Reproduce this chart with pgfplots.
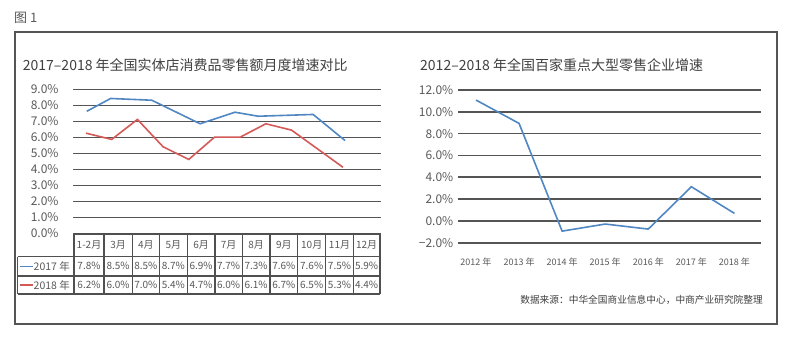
\documentclass[border=0pt]{standalone}
\usepackage{fontspec}
\setmainfont{Noto Sans CJK SC}
\usepackage{pgfplots}
\pgfplotsset{compat=1.18}
\definecolor{gridc}{HTML}{555555}
\definecolor{txt}{HTML}{595959}
\definecolor{ttl}{HTML}{404040}
\definecolor{blueL}{HTML}{5087C3}
\definecolor{redL}{HTML}{D45A58}
\definecolor{framec}{HTML}{555555}
\definecolor{tabc}{HTML}{505050}
\begin{document}
\begin{tikzpicture}
\useasboundingbox (0pt,0pt) rectangle (789pt,338pt);
\fill[white] (0pt,0pt) rectangle (789pt,338pt);
\draw[framec, line width=2pt] (15pt,14pt) rectangle (777pt,306pt);
\node[anchor=west, text=txt, font=\fontsize{13}{14}\selectfont, inner sep=0pt] at (14pt,320pt) {图 1};
\node[anchor=west, text=ttl, font=\fontsize{14}{16}\selectfont, inner sep=0pt] at (22.7pt,273pt) {2017–2018 年全国实体店消费品零售额月度增速对比};
\node[anchor=west, text=ttl, font=\fontsize{14}{16}\selectfont, inner sep=0pt] at (420pt,273pt) {2012–2018 年全国百家重点大型零售企业增速};
\node[anchor=east, text=ttl, font=\fontsize{9.7}{11}\selectfont, inner sep=0pt] at (763pt,38pt) {数据来源：中华全国商业信息中心，中商产业研究院整理};

\begin{axis}[at={(73pt,104.5pt)}, anchor=south west, scale only axis,
  width=308pt, height=144pt, xmin=-0.506, xmax=11.48, ymin=0, ymax=9,
  axis line style={draw=none}, xtick=\empty, ytick={0,1,...,9},
  ymajorgrids, grid style={gridc, line width=1.6pt}, major tick length=0pt,
  /pgf/number format/assume math mode=true,
  yticklabel={\pgfmathprintnumber[fixed,fixed zerofill,precision=1]{\tick}\%},
  yticklabel style={font=\fontsize{12}{13}\selectfont, text=txt, xshift=-11pt},
  clip=false]
\addplot[blueL, line width=1.6pt] coordinates {(0.03,7.64)(0.96,8.44)(2.56,8.33)(4.44,6.86)(5.80,7.58)(6.70,7.33)(8.84,7.44)(10.08,5.81)};
\addplot[redL, line width=1.6pt] coordinates {(0,6.27)(1,5.88)(2,7.13)(3,5.42)(4,4.63)(5,6.02)(6,6.02)(7,6.86)(8,6.46)(9,5.30)(10,4.14)};
\end{axis}

% data table
\begin{scope}[tabc, line width=1.2pt]
\draw (74pt,104pt) -- (380pt,104pt);
\draw (17.7pt,81.3pt) -- (380pt,81.3pt);
\draw (17.7pt,62pt) -- (380pt,62pt);
\draw (17.7pt,44pt) -- (380pt,44pt);
\draw (17.7pt,81.3pt) -- (17.7pt,44pt);
\foreach \cx in {74,104,132.3,159.3,187.3,215,242.3,270,297.7,325.7,353.3,380}
  \draw (\cx pt,104pt) -- (\cx pt,44pt);
\end{scope}
\begin{scope}[every node/.style={text=txt, font=\fontsize{10}{11}\selectfont, inner sep=0pt}]
\foreach \cx/\h/\a/\b in {89/1-2月/7.8\%/6.2\%, 118.15/3月/8.5\%/6.0\%, 145.8/4月/8.5\%/7.0\%, 173.3/5月/8.7\%/5.4\%, 201.15/6月/6.9\%/4.7\%, 228.65/7月/7.7\%/6.0\%, 256.15/8月/7.3\%/6.1\%, 283.85/9月/7.6\%/6.7\%, 311.7/10月/7.6\%/6.5\%, 339.5/11月/7.5\%/5.3\%, 366.65/12月/5.9\%/4.4\%}{
  \node at (\cx pt,92.7pt) {\h};
  \node at (\cx pt,71.7pt) {\a};
  \node at (\cx pt,53pt) {\b};
}
\draw[blueL, line width=1.6pt] (20pt,71.7pt) -- (33pt,71.7pt);
\draw[redL, line width=1.6pt] (20pt,53pt) -- (33pt,53pt);
\node[anchor=west, font=\fontsize{10.5}{11}\selectfont] at (33.5pt,71.7pt) {2017 年};
\node[anchor=west, font=\fontsize{10.5}{11}\selectfont] at (33.5pt,53pt) {2018 年};
\end{scope}

\begin{axis}[at={(458.3pt,95.3pt)}, anchor=south west, scale only axis,
  width=302.4pt, height=152.7pt, xmin=-0.41, xmax=6.61, ymin=-2, ymax=12,
  axis line style={draw=none}, ytick={-2,0,...,12},
  yticklabels={−2.0\%,0.0\%,2.0\%,4.0\%,6.0\%,8.0\%,10.0\%,12.0\%},
  xtick={0,1,...,6},
  xticklabels={2012 年,2013 年,2014 年,2015 年,2016 年,2017 年,2018 年},
  ymajorgrids, grid style={gridc, line width=1.6pt}, major tick length=0pt,
  yticklabel style={font=\fontsize{12}{13}\selectfont, text=txt, xshift=-1.5pt},
  xticklabel style={font=\fontsize{9}{10}\selectfont, text=txt, yshift=-12pt},
  clip=false]
\addplot[blueL, line width=1.6pt] coordinates {(0,11.08)(1,8.94)(2,-0.94)(3,-0.29)(4,-0.75)(5,3.13)(6,0.69)};
\end{axis}
\end{tikzpicture}
\end{document}
